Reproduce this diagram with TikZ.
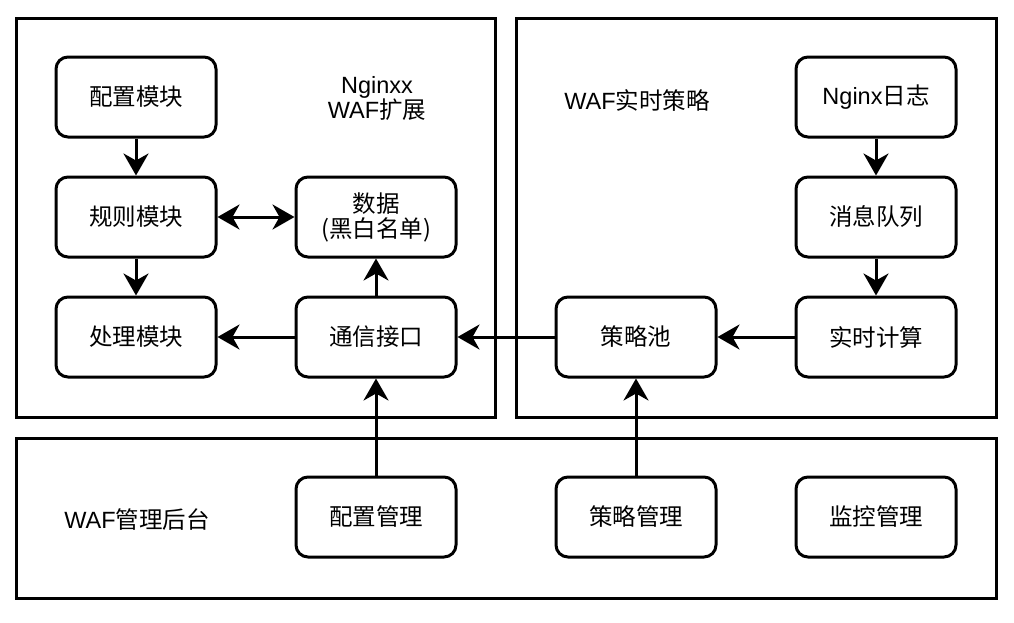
\documentclass[tikz,border=0pt]{standalone}
\usepackage{fontspec}
\setmainfont{Liberation Sans}
\newfontfamily\cjk{Noto Sans CJK SC}
\newcommand{\en}[1]{{\rmfamily #1}}
\usetikzlibrary{positioning,arrows.meta}

\tikzset{
  modbox/.style={draw=black, line width=3pt, rounded corners=12pt, minimum width=160pt,
                 minimum height=80pt, align=center, inner sep=2pt},
  frame/.style={draw=black, line width=3pt},
  flow/.style={line width=3pt, -{Stealth[length=22pt, width=25pt, inset=7pt]}},
  flowboth/.style={line width=3pt, {Stealth[length=22pt, width=25pt, inset=7pt]}-{Stealth[length=22pt, width=25pt, inset=7pt]}},
  lbl/.style={align=center},
}

\begin{document}
\begin{tikzpicture}[x=1pt, y=-1pt,
    every node/.style={font=\fontsize{23.5}{25}\selectfont\cjk}]
  \useasboundingbox (0,0) rectangle (1014,622);

  \draw[frame] (16,18) rectangle (495,417);
  \draw[frame] (516,18) rectangle (996,417);
  \draw[frame] (16,438) rectangle (996,598);

  \node[lbl] (extlbl) at (377,98) {\en{Nginxx}\\\en{WAF}扩展};
  \node[lbl] (rtlbl) at (637,100) {\en{WAF}实时策略};
  \node[lbl] (mgrlbl) at (137,520) {\en{WAF}管理后台};

  \node[modbox] (cfgmod) at (136,97) {配置模块};
  \node[modbox, below=37pt of cfgmod] (rulemod) {规则模块};
  \node[modbox, below=37pt of rulemod] (procmod) {处理模块};
  \node[modbox] (data) at (376,217) {数据\\(黑白名单)};
  \node[modbox, below=37pt of data] (comm) {通信接口};

  \node[modbox] (nglog) at (876,97) {\en{Nginx}日志};
  \node[modbox, below=37pt of nglog] (mq) {消息队列};
  \node[modbox, below=37pt of mq] (rtcalc) {实时计算};
  \node[modbox] (pool) at (636,337) {策略池};

  \node[modbox] (cfgmgr) at (376,517) {配置管理};
  \node[modbox, right=97pt of cfgmgr] (polmgr) {策略管理};
  \node[modbox, right=77pt of polmgr] (monmgr) {监控管理};

  \draw[flow] (cfgmod) -- (rulemod);
  \draw[flow] (rulemod) -- (procmod);
  \draw[flowboth] (rulemod) -- (data);
  \draw[flow] (comm) -- (data);
  \draw[flow] (comm) -- (procmod);
  \draw[flow] (pool) -- (comm);
  \draw[flow] (rtcalc) -- (pool);
  \draw[flow] (nglog) -- (mq);
  \draw[flow] (mq) -- (rtcalc);
  \draw[flow] (cfgmgr) -- (comm);
  \draw[flow] (polmgr) -- (pool);
\end{tikzpicture}
\end{document}
